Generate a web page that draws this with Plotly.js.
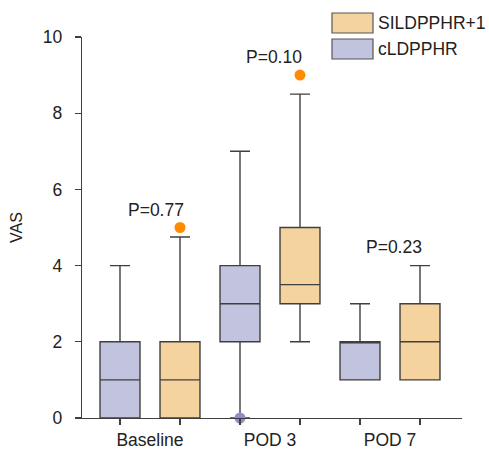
<!DOCTYPE html>
<html>
<head>
<meta charset="utf-8">
<script src="https://cdn.plot.ly/plotly-3.0.1.min.js"></script>
<style>html,body{margin:0;padding:0;background:#fff;}#chart{width:489px;height:457px;}</style>
</head>
<body>
<div id="chart"></div>
<script>
// ---- data ----
const categories = ['Baseline', 'POD 3', 'POD 7'];
const seriesNames = ['cLDPPHR', 'SILDPPHR+1'];

const clQ1 = [0, 2, 1];
const clMedian = [1, 3, 2];
const clQ3 = [2, 4, 2];
const clLower = [0, 0, 1];
const clUpper = [4, 7, 3];

const siQ1 = [0, 3, 1];
const siMedian = [1, 3.5, 2];
const siQ3 = [2, 5, 3];
const siLower = [0, 2, 1];
const siUpper = [4.75, 8.5, 4];

const clOutlierCat = [1];
const clOutlierVal = [0];
const siOutlierCat = [0, 1];
const siOutlierVal = [5, 9];

const pLabels = ['P=0.77', 'P=0.10', 'P=0.23'];
const yTicks = [0, 2, 4, 6, 8, 10];

// ---- styling / layout ----
const FONT = 'Liberation Sans, Arial, Helvetica, sans-serif';
const TXT = '#222';
const LINE = '#3f3f3f';
const clFill = '#c1c3df';
const siFill = '#f5d39f';
const clDot = '#8e8fca';
const siDot = '#ff8c00';
const OFF = 0.25, BW = 0.333;

const ML = 82, MR = 27, MT = 37, MB = 39, W = 489, H = 457;
const PW = W - ML - MR, PH = H - MT - MB;
const px2x = p => (p - ML) / PW;
const py2y = p => (H - MB - p) / PH;

const idx = categories.map((c, i) => i);
const clPos = idx.map(i => i - OFF);
const siPos = idx.map(i => i + OFF);

function boxTrace(name, pos, q1, med, q3, lo, hi, fill) {
  return {
    type: 'box', name: name, x: pos, q1: q1, median: med, q3: q3,
    lowerfence: lo, upperfence: hi, boxpoints: false,
    width: BW, whiskerwidth: 0.5,
    fillcolor: fill, line: {color: LINE, width: 1.4},
    showlegend: false, hoverinfo: 'skip'
  };
}

const data = [
  boxTrace(seriesNames[0], clPos, clQ1, clMedian, clQ3, clLower, clUpper, clFill),
  boxTrace(seriesNames[1], siPos, siQ1, siMedian, siQ3, siLower, siUpper, siFill),
  {type: 'scatter', mode: 'markers', x: clOutlierCat.map(i => i - OFF), y: clOutlierVal,
   marker: {color: clDot, size: 11}, cliponaxis: false, showlegend: false, hoverinfo: 'skip'},
  {type: 'scatter', mode: 'markers', x: siOutlierCat.map(i => i + OFF), y: siOutlierVal,
   marker: {color: siDot, size: 11}, cliponaxis: false, showlegend: false, hoverinfo: 'skip'},
  // invisible trace to activate xaxis2 (category labels)
  {type: 'scatter', mode: 'markers', x: idx, y: idx.map(() => 0), xaxis: 'x2',
   marker: {opacity: 0}, showlegend: false, hoverinfo: 'skip'}
];

const xr = [-68 / 120, 2 + 72 / 120];

const pAnn = [
  {x: 0.05, y: 5.46}, {x: 1.03, y: 9.47}, {x: 2.03, y: 4.49}
].map((p, i) => ({
  xref: 'x', yref: 'y', x: p.x, y: p.y, text: pLabels[i], showarrow: false,
  xanchor: 'center', yanchor: 'middle', font: {family: FONT, size: 17.5, color: TXT}
}));

const legItems = [
  {name: seriesNames[1], fill: siFill, top: 13, bot: 33},
  {name: seriesNames[0], fill: clFill, top: 39, bot: 59}
];
const legShapes = legItems.map(it => ({
  type: 'rect', xref: 'paper', yref: 'paper',
  x0: px2x(332), x1: px2x(373), y0: py2y(it.bot), y1: py2y(it.top),
  fillcolor: it.fill, line: {color: '#555', width: 1.2}
}));
const legAnn = legItems.map(it => ({
  xref: 'paper', yref: 'paper', x: px2x(376), y: py2y((it.top + it.bot) / 2),
  text: it.name, showarrow: false, xanchor: 'left', yanchor: 'middle',
  font: {family: FONT, size: 17.5, color: TXT}
}));

const layout = {
  width: W, height: H,
  margin: {l: ML, r: MR, t: MT, b: MB, pad: 0},
  paper_bgcolor: '#fff', plot_bgcolor: '#fff',
  showlegend: false,
  font: {family: FONT, size: 17, color: TXT},
  xaxis: {
    type: 'linear', range: xr, tickvals: idx.flatMap(i => [i - OFF, i + OFF]),
    ticktext: idx.flatMap(() => ['', '']), ticks: 'outside', ticklen: 6,
    tickcolor: LINE, tickwidth: 1.2, showline: true, linecolor: LINE, linewidth: 1.2,
    showgrid: false, zeroline: false, fixedrange: true
  },
  xaxis2: {
    type: 'linear', range: xr, overlaying: 'x', anchor: 'y', side: 'bottom',
    tickvals: idx, ticktext: categories, ticks: 'outside', ticklen: 6,
    tickcolor: 'rgba(0,0,0,0)', showline: false, showgrid: false, zeroline: false,
    tickfont: {family: FONT, size: 17.5, color: TXT}
  },
  yaxis: {
    range: [0, 10], tickvals: yTicks, ticktext: yTicks.map(String),
    ticks: 'outside', ticklen: 6, tickcolor: LINE, tickwidth: 1.2,
    showline: true, linecolor: LINE, linewidth: 1.2,
    showgrid: false, zeroline: false, ticklabelstandoff: 9,
    tickfont: {family: FONT, size: 17.5, color: TXT},
    title: {text: 'VAS', font: {family: FONT, size: 16, color: TXT}, standoff: 16}
  },
  shapes: legShapes,
  annotations: pAnn.concat(legAnn)
};

Plotly.newPlot('chart', data, layout, {displayModeBar: false, staticPlot: true});
</script>
</body>
</html>
